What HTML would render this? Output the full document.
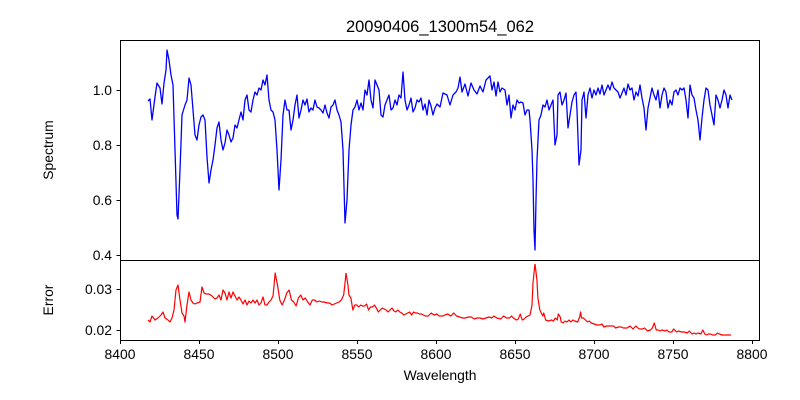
<!DOCTYPE html>
<html><head><meta charset="utf-8"><style>body{margin:0;background:#fff}svg{display:block}text{font-family:"Liberation Sans","DejaVu Sans",sans-serif;fill:#000}</style></head><body>
<svg width="800" height="400" viewBox="0 0 800 400">
<rect width="800" height="400" fill="#fff"/>
<text x="440" y="32" font-size="16.5" text-anchor="middle">20090406_1300m54_062</text>
<polyline fill="none" stroke="#0000ff" stroke-width="1.3" stroke-linejoin="round" points="148,101 150,99 152,120 155,97 157,83 160,88 162,104 164,83 166,70 167,50 169,60 171,75 173,85 175,150 177,215 178,219 180,170 182,115 185,105 187,100 189,78 191,85 193,110 195,135 197,140 199,125 201,117 203,115 205,120 207,157 209,183 211,170 213,160 215,145 217,128 219,122 221,140 223,150 225,143 227,130 229,135 231,142 233,138 235,125 237,128 239,120 241,112 243,120 245,100 247,95 249,110 251,112 253,100 255,92 257,95 259,88 261,90 263,80 265,85 267,75 269,100 271,110 273,112 275,120 277,150 279,190 281,160 283,115 285,100 287,110 289,110 291,130 293,120 295,105 297,95 299,118 301,110 303,100 305,105 307,99 309,112 311,108 313,110 315,100 317,107 319,108 321,110 323,113 325,105 327,113 329,118 331,107 333,105 335,100 337,110 339,115 341,122 343,150 345,223 347,200 349,150 351,125 353,110 355,107 357,100 359,110 361,103 363,110 365,90 367,95 369,80 371,100 373,108 375,80 377,85 379,90 381,115 383,117 385,105 387,100 389,95 391,110 393,108 395,100 397,105 399,95 401,98 403,72 405,100 407,110 409,105 411,98 413,112 415,108 417,100 419,102 421,98 423,110 425,104 427,115 429,100 431,106 433,115 435,108 437,104 440,107 443,93 447,95 450,105 453,95 456,92 458,88 460,77 462,92 465,84 468,96 471,83 474,90 477,94 480,86 483,92 486,80 490,76 492,90 494,82 496,96 498,82 500,92 502,88 505,90 507,105 509,95 511,118 513,105 515,110 517,100 519,103 521,102 523,103 525,115 527,110 529,110 530,120 532,150 533,180 534,230 535,250 536,200 537,160 539,120 541,115 543,105 545,107 547,100 549,110 551,105 553,100 555,145 557,135 558,95 560,92 562,105 564,100 566,93 568,128 570,115 572,102 574,95 576,92 577,110 579,165 581,150 582,100 584,92 586,118 588,95 590,88 592,98 594,90 596,95 598,88 600,94 602,85 604,95 606,90 608,85 610,90 612,82 614,88 616,90 618,92 620,98 622,93 624,88 626,95 628,84 630,90 632,88 634,100 636,92 638,96 640,85 642,98 644,108 646,130 648,108 650,98 652,88 654,95 656,100 658,90 660,108 662,95 664,88 666,92 668,108 670,100 672,105 674,92 676,90 678,95 680,88 682,90 684,88 686,100 688,118 690,85 692,95 694,98 696,110 698,120 700,140 702,118 704,100 706,88 708,90 710,105 712,115 714,125 716,95 718,100 720,108 722,100 724,90 726,95 728,108 730,95 732,100"/>
<g fill="none" stroke="#ff0000" stroke-width="1.2" stroke-linejoin="round">
<polyline points="148,320 150,322 152,316 155,320 158,318 161,315 163,312 165,318 168,320 170,322 172,318 174,310 176,290 178,285 180,300 182,313 184,316 185,322 187,305 189,292 191,300 193,303 195,304 197,303 200,302 202,287 204,293 206,294 209,294 212,296 215,299 217,298 219,295 221,300 223,290 225,293 227,300 229,292 231,298 233,292 235,296 237,300 239,297 241,300 243,304 245,300 247,305 249,301 251,303 253,300 255,303 257,300 259,305 261,303 263,297 265,305 267,305 269,302 271,300 273,296 274,286"/>
<polyline vector-effect="non-scaling-stroke" transform="translate(274,0) scale(1.161,1) translate(-274,0)" points="274,286 275,273 277,285 279,300 281,305 283,300 285,293 287,290 289,300 291,302 293,306 295,298 297,295 299,300 301,298 303,302 305,305 307,300 309,300 311,302 313,301 315,302 317,302 320,303 322,303 324,305 326,304 328,303 330,302 332,300 334,295 335,285 336,273"/>
<polyline vector-effect="non-scaling-stroke" transform="translate(346,0) scale(0.979,1) translate(-336,0)" points="336,273 338,285 339,295 341,298 343,310 345,305 347,305 349,307 351,305 353,306 355,306 357,304 359,310 361,307 363,307 365,305 367,308 369,312 371,310 373,308 375,309 377,310 379,312 381,310 383,308 385,311 387,312 389,310 391,312 393,313 395,315 397,314 399,313 401,312 403,315 405,312 407,313 409,313 411,314 413,314 415,315 417,316 420,316 423,313 426,315 429,314 431,316 435,316 437,315 440,314 443,316 446,313 449,316 452,317 455,318 458,318 461,317 464,317 467,319 470,318 473,318 476,319 479,318 482,317 485,318 487,316 490,318 494,319 497,316 500,318 503,318 505,316 507,318 510,320 512,319 514,314 516,320 518,319 520,317 522,316 524,315 526,305 527,283 529,264"/>
<polyline vector-effect="non-scaling-stroke" transform="translate(535,0) scale(0.97,1) translate(-529,0)" points="529,264 531,280 532,298 534,310 536,314 537,316 538,313 540,320 543,321 546,320 548,321 550,318 552,320 553,314 555,317 556,322 558,323 560,321 562,322 564,320 566,322 568,320 570,321 573,322 575,317 576,312 577,318 579,318 581,320 583,322 585,321 587,323 590,324 593,325 596,325 598,324 600,327 603,326 605,326 607,326 610,326 612,328 615,327 618,327 620,328 624,328 627,326 630,329 633,326 635,328 637,329 640,329 642,328 645,331 648,330 650,328 652,323 654,330 656,330 658,331 660,330 663,331 665,330 667,332 670,332 672,329 675,332 677,331 680,332 683,332 686,333 688,331 691,334 693,333 695,334 697,333 700,334 702,330 704,334 706,335 708,334 710,334 712,335 715,335 717,333 719,334 722,335 725,335 728,335 731,335"/>
</g>
<g fill="none" stroke="#000" stroke-width="1">
<rect x="120.5" y="40.5" width="639" height="220"/>
<rect x="120.5" y="260.5" width="639" height="80"/>
<path d="M120.5 90.5h-4M120.5 145.5h-4M120.5 200.5h-4M120.5 255.5h-4M120.5 289.5h-4M120.5 330.5h-4"/>
<path d="M120.5 340v4M199.5 340v4M278.5 340v4M357.5 340v4M436.5 340v4M515.5 340v4M594.5 340v4M673.5 340v4M752.5 340v4"/>
</g>
<g font-size="13.9" text-anchor="end">
<text x="112" y="95">1.0</text><text x="112" y="150">0.8</text><text x="112" y="205">0.6</text><text x="112" y="260">0.4</text>
<text x="112" y="294">0.03</text><text x="112" y="335">0.02</text>
</g>
<g font-size="13.9" text-anchor="middle">
<text x="120" y="359">8400</text><text x="199" y="359">8450</text><text x="278" y="359">8500</text><text x="357" y="359">8550</text><text x="436" y="359">8600</text><text x="515" y="359">8650</text><text x="594" y="359">8700</text><text x="673" y="359">8750</text><text x="752" y="359">8800</text>
<text x="440" y="380">Wavelength</text>
<text transform="translate(53,150) rotate(-90)">Spectrum</text>
<text transform="translate(53,300) rotate(-90)">Error</text>
</g>
</svg>
</body></html>
